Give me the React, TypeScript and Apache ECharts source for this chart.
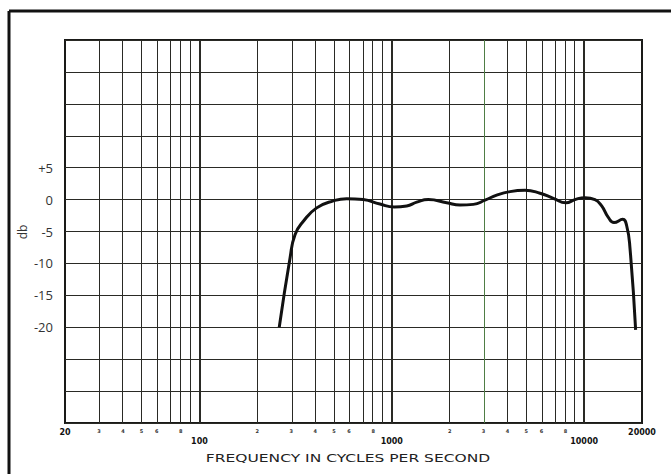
import React, { useEffect, useRef } from "react";
import * as echarts from "echarts";

// Frequency response curve (Hz, dB)
const curveFreqs = [260, 296, 314, 347, 407, 497, 583, 711, 868, 1030, 1196, 1348, 1549, 1930, 2264, 2655, 3054, 3512, 4118, 4928, 5898, 6918, 8054, 8968, 10106, 11392, 12342, 13360, 14304, 15870, 16648, 17320, 18535];
const curveDb = [-20, -9.1, -5.5, -3.4, -1.3, -0.2, 0.15, 0, -0.7, -1.15, -1.0, -0.4, 0, -0.5, -0.85, -0.75, -0.1, 0.7, 1.25, 1.45, 1.0, 0.2, -0.5, 0, 0.3, 0, -1.0, -2.8, -3.6, -3.1, -4.1, -7.6, -20.4];

// Vertical grid lines (Hz)
const gridFreqs = [30, 40, 50, 60, 70, 80, 90, 100, 200, 300, 400, 500, 600, 700, 800, 900, 1000, 2000, 3000, 4000, 5000, 6000, 7000, 8000, 9000, 10000];
const majorFreqs = [100, 1000, 10000];
// x tick labels
const endLabelFreqs = [20, 20000];
const minorLabelFreqs = [30, 40, 50, 60, 80, 200, 300, 400, 500, 600, 800, 2000, 3000, 4000, 5000, 6000, 8000];
// y tick labels shown
const yLabelValues = [5, 0, -5, -10, -15, -20];

const FMIN = 20;
const FMAX = 20000;

export default function App() {
  const ref = useRef<HTMLDivElement>(null);
  useEffect(() => {
    if (!ref.current) return;
    const chart = echarts.init(ref.current, null, { renderer: "svg" });
    const lg = (f: number) => Math.log10(f);
    const labelValues = [...endLabelFreqs, ...majorFreqs, ...minorLabelFreqs].map(lg);
    const data = curveFreqs.map((f, i) => [lg(f), curveDb[i]]);
    const markData = gridFreqs.map((f) => ({
      xAxis: lg(f),
      lineStyle: {
        width: majorFreqs.includes(f) ? 2 : 1,
        color: f === 3000 ? "#4f7d45" : "#2a2a25",
      },
    }));
    chart.setOption({
      animation: false,
      backgroundColor: "#fff",
      grid: {
        left: 65,
        top: 40,
        right: 29,
        bottom: 51,
        show: true,
        borderColor: "#1a1a18",
        borderWidth: 2,
      },
      xAxis: {
        type: "value",
        min: lg(FMIN),
        max: lg(FMAX),
        axisLine: { show: false },
        axisTick: { show: false },
        splitLine: { show: false },
        axisLabel: {
          customValues: labelValues,
          margin: 5,
          color: "#111",
          fontFamily: "DejaVu Sans",
          formatter: (v: number) => {
            const f = Math.round(Math.pow(10, v));
            if (majorFreqs.includes(f)) return "{maj|" + f + "}";
            if (endLabelFreqs.includes(f)) return "{end|" + f + "}";
            return "{min|" + String(f)[0] + "}";
          },
          rich: {
            maj: { fontSize: 8, fontWeight: "bold", fontFamily: "DejaVu Sans", color: "#111", padding: [9, 0, 0, 0] },
            end: { fontSize: 8, fontWeight: "bold", fontFamily: "DejaVu Sans", color: "#111" },
            min: { fontSize: 5, fontWeight: "bold", fontFamily: "DejaVu Sans", color: "#333" },
          },
        },
      },
      yAxis: {
        type: "value",
        min: -35,
        max: 25,
        interval: 5,
        axisLine: { show: false },
        axisTick: { show: false },
        splitLine: { show: true, lineStyle: { color: "#2a2a25", width: 1 } },
        axisLabel: {
          margin: 12,
          fontSize: 13,
          color: "#333",
          fontFamily: "Open Sans",
          formatter: (v: number) => {
            if (!yLabelValues.includes(v)) return "";
            return v > 0 ? "+" + v : String(v);
          },
        },
      },
      series: [
        {
          type: "line",
          data,
          smooth: 0.5,
          symbol: "none",
          lineStyle: { color: "#111", width: 3 },
          z: 5,
          markLine: {
            silent: true,
            symbol: ["none", "none"],
            label: { show: false },
            lineStyle: { type: "solid", color: "#2a2a25", width: 1 },
            data: markData,
            z: 1,
          },
        },
      ],
      graphic: [
        { type: "line", shape: { x1: 9, y1: 11, x2: 671, y2: 11 }, style: { stroke: "#111", lineWidth: 3 } },
        { type: "line", shape: { x1: 9, y1: 11, x2: 9, y2: 474 }, style: { stroke: "#111", lineWidth: 3 } },
        {
          type: "text",
          x: 348,
          y: 459,
          scaleX: 1.55,
          style: {
            text: "FREQUENCY IN CYCLES PER SECOND",
            fontSize: 10,
            fontFamily: "DejaVu Sans",
            fill: "#222",
            textAlign: "center",
            textVerticalAlign: "middle",
          },
        },
        {
          type: "text",
          x: 22,
          y: 232,
          rotation: Math.PI / 2,
          style: {
            text: "db",
            fontSize: 12,
            fontFamily: "Open Sans",
            fill: "#333",
            textAlign: "center",
            textVerticalAlign: "middle",
          },
        },
      ],
    });
    return () => chart.dispose();
  }, []);
  return (
    <div
      ref={ref}
      style={{ position: "fixed", left: 0, top: 0, width: 671, height: 474 }}
    />
  );
}
